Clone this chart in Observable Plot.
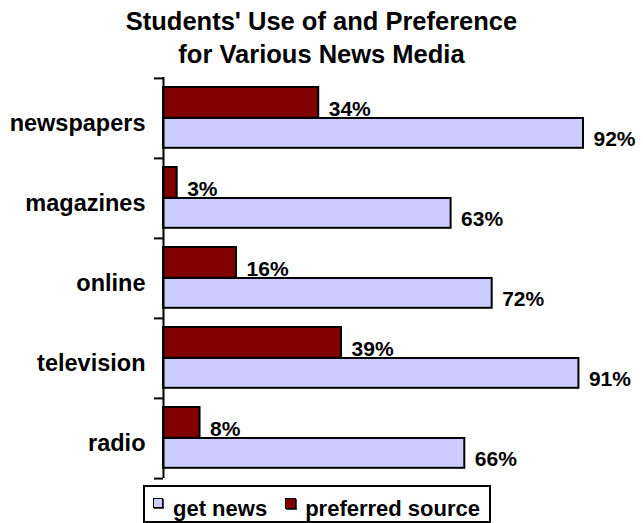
<!DOCTYPE html>
<html><head><meta charset="utf-8">
<script src="https://cdn.jsdelivr.net/npm/d3@7"></script>
<script src="https://cdn.jsdelivr.net/npm/@observablehq/plot@0.6"></script>
<style>
html,body{margin:0;padding:0;background:#fff;}
body{position:relative;width:643px;height:523px;overflow:hidden;font-family:"Liberation Sans",Arial,Helvetica,sans-serif;color:#000;}
#title{width:643px;text-align:center;font-weight:bold;font-size:25.5px;line-height:33px;padding-top:5px;height:67px;}
#chart{height:411px;}
#legend{position:absolute;left:143px;top:485px;height:34px;border:2px solid #000;display:flex;align-items:flex-start;padding:0 9px 0 8px;background:#fff;}
#legend .item{display:flex;align-items:flex-start;}
#legend .sw{box-sizing:border-box;border:1px solid #000;box-shadow:1px 1px 0 #444;margin-top:11px;}
#legend .lab{font-weight:bold;font-size:22px;line-height:22px;margin-top:11px;white-space:nowrap;}
</style></head><body>
<div id="title">Students' Use of and Preference<br>for Various News Media</div>
<div id="chart"></div>
<div id="legend"></div>
<script>
const categories = ["newspapers", "magazines", "online", "television", "radio"];
const getNews = [92, 63, 72, 91, 66];
const preferredSource = [34, 3, 16, 39, 8];
const seriesNames = ["get news", "preferred source"];
const seriesColors = ["#ccccff", "#800000"];

const rows = categories.map((c, i) => ({category: c, getNews: getNews[i], preferred: preferredSource[i]}));
const font = '"Liberation Sans", Arial, Helvetica, sans-serif';

const chart = Plot.plot({
  width: 643,
  height: 411,
  marginTop: 5,
  marginBottom: 5,
  marginLeft: 163,
  marginRight: 23.5,
  style: {fontFamily: font, fontWeight: "bold", fontSize: "21px", color: "#000", background: "#fff", overflow: "visible"},
  x: {domain: [0, 100], axis: null},
  y: {domain: categories, padding: 0},
  marks: [
    Plot.barX(rows, {y: "category", x: "preferred", fill: seriesColors[1], stroke: "#000", strokeWidth: 2, insetTop: 9, insetBottom: 40.2}),
    Plot.barX(rows, {y: "category", x: "getNews", fill: seriesColors[0], stroke: "#000", strokeWidth: 2, insetTop: 40, insetBottom: 10.2}),
    Plot.text(rows, {y: "category", x: "preferred", text: d => d.preferred + "%", dx: 10, dy: -9, textAnchor: "start", fontSize: 21, fontWeight: "bold", fill: "#000"}),
    Plot.text(rows, {y: "category", x: "getNews", text: d => d.getNews + "%", dx: 10, dy: 21, textAnchor: "start", fontSize: 21, fontWeight: "bold", fill: "#000"}),
    Plot.ruleX([0], {stroke: "#000", strokeWidth: 2}),
    Plot.axisY({tickSize: 0, tickPadding: 18, fontSize: 23.5, fontWeight: "bold", dy: 5, label: null}),
    Plot.axisY({tickSize: 9, tickFormat: () => "", dy: -40.1, strokeWidth: 2, label: null}),
    Plot.axisY([categories[categories.length - 1]], {tickSize: 9, tickFormat: () => "", dy: 40.1, strokeWidth: 2, label: null})
  ]
});
document.getElementById("chart").appendChild(chart);

const legend = document.getElementById("legend");
const swSizes = [10, 11];
const gaps = [[10, 18], [9, 0]];
seriesNames.forEach((name, i) => {
  const item = document.createElement("div");
  item.className = "item";
  item.style.marginRight = gaps[i][1] + "px";
  const sw = document.createElement("div");
  sw.className = "sw";
  sw.style.width = swSizes[i] + "px";
  sw.style.height = swSizes[i] + "px";
  sw.style.background = seriesColors[i];
  sw.style.marginRight = gaps[i][0] + "px";
  const lab = document.createElement("div");
  lab.className = "lab";
  lab.textContent = name;
  item.appendChild(sw);
  item.appendChild(lab);
  legend.appendChild(item);
});
</script>
</body></html>
